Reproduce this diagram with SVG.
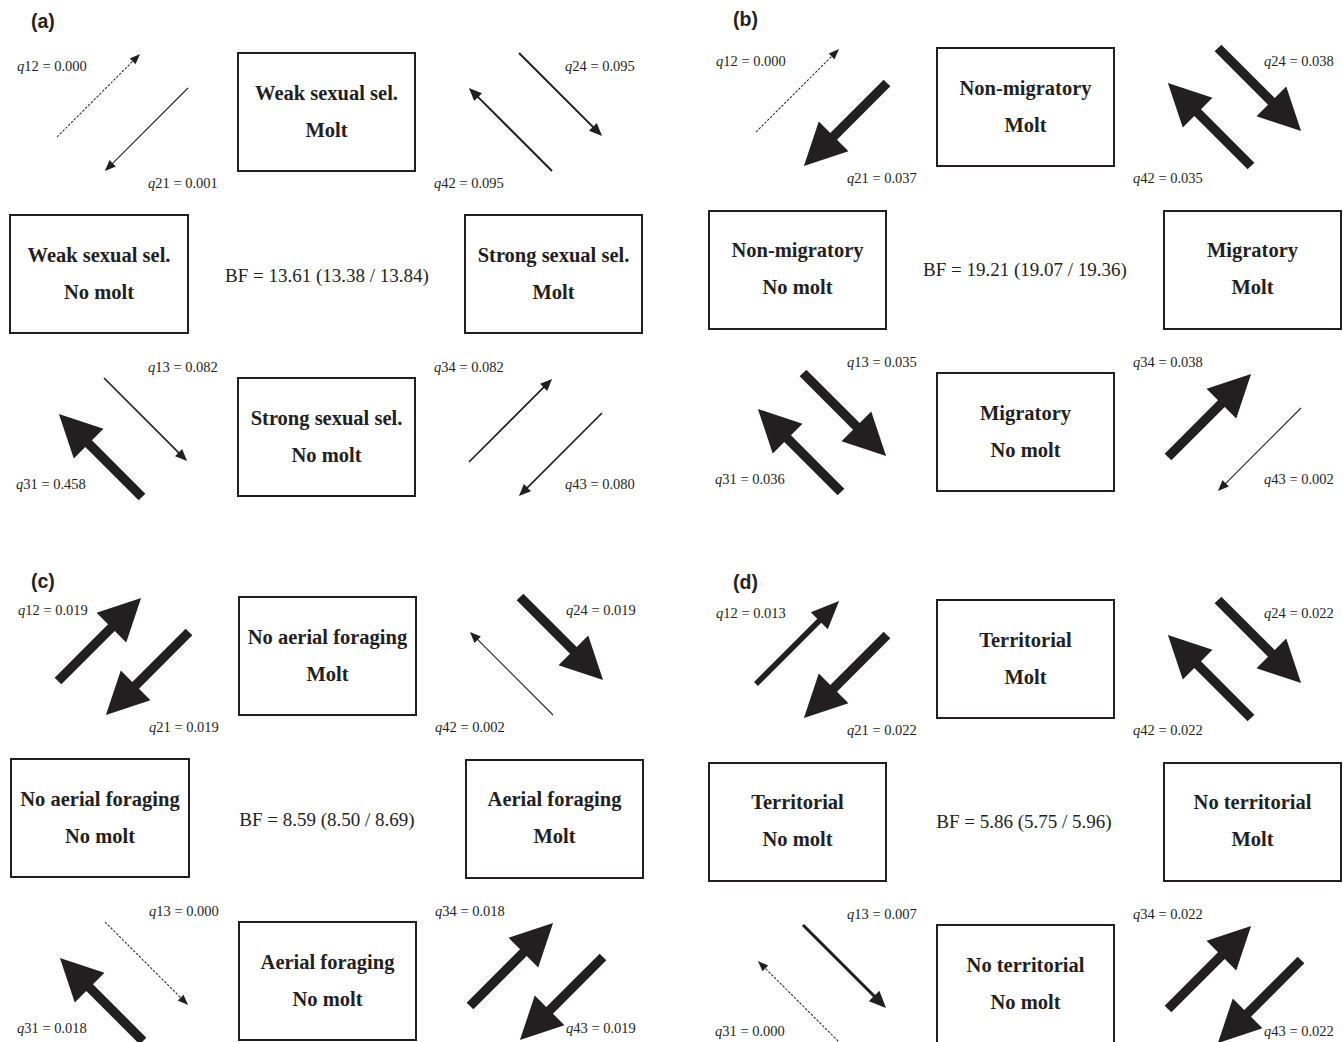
<svg xmlns="http://www.w3.org/2000/svg" xmlns:xlink="http://www.w3.org/1999/xlink" width="1343" height="1042" viewBox="0 0 1343 1042">
<style>
.box{fill:#fff;stroke:#231f20;stroke-width:2}
.bt{font-family:"Liberation Serif","Times New Roman",serif;font-weight:bold;font-size:20.5px;fill:#231f20;text-anchor:middle}
.bf{font-family:"Liberation Serif","Times New Roman",serif;font-size:19px;fill:#231f20;text-anchor:middle}
.q{font-family:"Liberation Serif","Times New Roman",serif;font-size:14.5px;fill:#231f20}
.q tspan{font-style:italic}
.pl{font-family:"Liberation Sans",Arial,sans-serif;font-weight:bold;font-size:19.5px;fill:#231f20}
.ar{fill:#231f20}
</style>
<defs>
<path id="thick" class="ar" d="M0,-4.75 H75.5 V-21 L117.5,0 L75.5,21 V4.75 H0 Z"/>
<path id="w56" class="ar" d="M0,-2.8 H89.5 V-12 L117.5,0 L89.5,12 V2.8 H0 Z"/>
<path id="w30" class="ar" d="M0,-1.5 H100.5 V-7.5 L117.5,0 L100.5,7.5 V1.5 H0 Z"/>
<path id="w20" class="ar" d="M0,-1 H104.5 V-5.5 L117.5,0 L104.5,5.5 V1 H0 Z"/>
<path id="w16" class="ar" d="M0,-0.8 H105.5 V-5 L117.5,0 L105.5,5 V0.8 H0 Z"/>
<path id="thin" class="ar" d="M0,-0.55 H106.5 V-4.5 L117.5,0 L106.5,4.5 V0.55 H0 Z"/>
<g id="dash">
<line x1="0" y1="0" x2="108" y2="0" stroke="#231f20" stroke-width="1" stroke-dasharray="2.5 1.5"/>
<path class="ar" d="M107,-4 L117.5,0 L107,4 Z"/>
</g>
</defs>
<rect width="1343" height="1042" fill="#fff"/>

<text class="pl" x="31" y="28">(a)</text>
<text class="pl" x="733" y="26">(b)</text>
<text class="pl" x="31" y="588">(c)</text>
<text class="pl" x="733" y="589">(d)</text>

<!-- Panel a -->
<g id="panel-a">
<g id="a-s2"><rect class="box" x="238" y="53" width="177" height="118"/><text class="bt" x="326.5" y="100">Weak sexual sel.</text><text class="bt" x="326.5" y="137">Molt</text></g>
<g id="a-s1"><rect class="box" x="10" y="215" width="178" height="118"/><text class="bt" x="99" y="262">Weak sexual sel.</text><text class="bt" x="99" y="299">No molt</text></g>
<g id="a-s4"><rect class="box" x="465" y="215" width="177" height="118"/><text class="bt" x="553.5" y="262">Strong sexual sel.</text><text class="bt" x="553.5" y="299">Molt</text></g>
<g id="a-s3"><rect class="box" x="238" y="378" width="177" height="118"/><text class="bt" x="326.5" y="425">Strong sexual sel.</text><text class="bt" x="326.5" y="462">No molt</text></g>
<text id="a-bf" class="bf" x="327" y="282">BF = 13.61 (13.38 / 13.84)</text>
</g>

<!-- Panel b -->
<g id="panel-b" transform="translate(699,-5)">
<g id="b-s2"><rect class="box" x="238" y="53" width="177" height="118"/><text class="bt" x="326.5" y="100">Non-migratory</text><text class="bt" x="326.5" y="137">Molt</text></g>
<g id="b-s1"><rect class="box" x="10" y="216" width="177" height="118"/><text class="bt" x="98.5" y="262">Non-migratory</text><text class="bt" x="98.5" y="299">No molt</text></g>
<g id="b-s4"><rect class="box" x="465" y="216" width="177" height="118"/><text class="bt" x="553.5" y="262">Migratory</text><text class="bt" x="553.5" y="299">Molt</text></g>
<g id="b-s3"><rect class="box" x="238" y="378" width="177" height="118"/><text class="bt" x="326.5" y="425">Migratory</text><text class="bt" x="326.5" y="462">No molt</text></g>
<text id="b-bf" class="bf" x="326" y="281">BF = 19.21 (19.07 / 19.36)</text>
</g>

<!-- Panel c -->
<g id="panel-c" transform="translate(1,544)">
<g id="c-s2"><rect class="box" x="238" y="53" width="177" height="118"/><text class="bt" x="326.5" y="100">No aerial foraging</text><text class="bt" x="326.5" y="137">Molt</text></g>
<g id="c-s1"><rect class="box" x="10" y="215" width="178" height="118"/><text class="bt" x="99" y="262">No aerial foraging</text><text class="bt" x="99" y="299">No molt</text></g>
<g id="c-s4"><rect class="box" x="465" y="216" width="177" height="118"/><text class="bt" x="553.5" y="262">Aerial foraging</text><text class="bt" x="553.5" y="299">Molt</text></g>
<g id="c-s3"><rect class="box" x="238" y="378" width="177" height="118"/><text class="bt" x="326.5" y="425">Aerial foraging</text><text class="bt" x="326.5" y="462">No molt</text></g>
<text id="c-bf" class="bf" x="326" y="282">BF = 8.59 (8.50 / 8.69)</text>
</g>

<!-- Panel d -->
<g id="panel-d" transform="translate(699,547)">
<g id="d-s2"><rect class="box" x="238" y="53" width="177" height="118"/><text class="bt" x="326.5" y="100">Territorial</text><text class="bt" x="326.5" y="137">Molt</text></g>
<g id="d-s1"><rect class="box" x="10" y="216" width="177" height="118"/><text class="bt" x="98.5" y="262">Territorial</text><text class="bt" x="98.5" y="299">No molt</text></g>
<g id="d-s4"><rect class="box" x="465" y="216" width="177" height="118"/><text class="bt" x="553.5" y="262">No territorial</text><text class="bt" x="553.5" y="299">Molt</text></g>
<g id="d-s3"><rect class="box" x="238" y="378" width="177" height="118"/><text class="bt" x="326.5" y="425">No territorial</text><text class="bt" x="326.5" y="462">No molt</text></g>
<text id="d-bf" class="bf" x="325" y="281">BF = 5.86 (5.75 / 5.96)</text>
</g>

<g id="connectors">
<g id="conn-a">
<use xlink:href="#dash" href="#dash" transform="translate(57,137) rotate(-45)"/>
<use xlink:href="#thin" href="#thin" transform="translate(188,88) rotate(135)"/>
<use xlink:href="#w20" href="#w20" transform="translate(519,53) rotate(45)"/>
<use xlink:href="#w20" href="#w20" transform="translate(552,171) rotate(-135)"/>
<use xlink:href="#w16" href="#w16" transform="translate(104,378) rotate(45)"/>
<use xlink:href="#thick" href="#thick" transform="translate(142,497) rotate(-135)"/>
<use xlink:href="#w16" href="#w16" transform="translate(469,462) rotate(-45)"/>
<use xlink:href="#w16" href="#w16" transform="translate(602,413) rotate(135)"/>
<text class="q" x="17" y="71"><tspan>q</tspan>12 = 0.000</text>
<text class="q" x="148" y="188"><tspan>q</tspan>21 = 0.001</text>
<text class="q" x="565" y="71"><tspan>q</tspan>24 = 0.095</text>
<text class="q" x="434" y="188"><tspan>q</tspan>42 = 0.095</text>
<text class="q" x="148" y="372"><tspan>q</tspan>13 = 0.082</text>
<text class="q" x="434" y="372"><tspan>q</tspan>34 = 0.082</text>
<text class="q" x="16" y="489"><tspan>q</tspan>31 = 0.458</text>
<text class="q" x="565" y="489"><tspan>q</tspan>43 = 0.080</text>
</g>
<g id="conn-b" transform="translate(699,-5)">
<use xlink:href="#dash" href="#dash" transform="translate(57,137) rotate(-45)"/>
<use xlink:href="#thick" href="#thick" transform="translate(188,88) rotate(135)"/>
<use xlink:href="#thick" href="#thick" transform="translate(519,53) rotate(45)"/>
<use xlink:href="#thick" href="#thick" transform="translate(552,171) rotate(-135)"/>
<use xlink:href="#thick" href="#thick" transform="translate(104,378) rotate(45)"/>
<use xlink:href="#thick" href="#thick" transform="translate(142,497) rotate(-135)"/>
<use xlink:href="#thick" href="#thick" transform="translate(469,462) rotate(-45)"/>
<use xlink:href="#thin" href="#thin" transform="translate(602,413) rotate(135)"/>
<text class="q" x="17" y="71"><tspan>q</tspan>12 = 0.000</text>
<text class="q" x="148" y="188"><tspan>q</tspan>21 = 0.037</text>
<text class="q" x="565" y="71"><tspan>q</tspan>24 = 0.038</text>
<text class="q" x="434" y="188"><tspan>q</tspan>42 = 0.035</text>
<text class="q" x="148" y="372"><tspan>q</tspan>13 = 0.035</text>
<text class="q" x="434" y="372"><tspan>q</tspan>34 = 0.038</text>
<text class="q" x="16" y="489"><tspan>q</tspan>31 = 0.036</text>
<text class="q" x="565" y="489"><tspan>q</tspan>43 = 0.002</text>
</g>
<g id="conn-c" transform="translate(1,544)">
<use xlink:href="#thick" href="#thick" transform="translate(57,137) rotate(-45)"/>
<use xlink:href="#thick" href="#thick" transform="translate(188,88) rotate(135)"/>
<use xlink:href="#thick" href="#thick" transform="translate(519,53) rotate(45)"/>
<use xlink:href="#thin" href="#thin" transform="translate(552,171) rotate(-135)"/>
<use xlink:href="#dash" href="#dash" transform="translate(104,378) rotate(45)"/>
<use xlink:href="#thick" href="#thick" transform="translate(142,497) rotate(-135)"/>
<use xlink:href="#thick" href="#thick" transform="translate(469,462) rotate(-45)"/>
<use xlink:href="#thick" href="#thick" transform="translate(602,413) rotate(135)"/>
<text class="q" x="17" y="71"><tspan>q</tspan>12 = 0.019</text>
<text class="q" x="148" y="188"><tspan>q</tspan>21 = 0.019</text>
<text class="q" x="565" y="71"><tspan>q</tspan>24 = 0.019</text>
<text class="q" x="434" y="188"><tspan>q</tspan>42 = 0.002</text>
<text class="q" x="148" y="372"><tspan>q</tspan>13 = 0.000</text>
<text class="q" x="434" y="372"><tspan>q</tspan>34 = 0.018</text>
<text class="q" x="16" y="489"><tspan>q</tspan>31 = 0.018</text>
<text class="q" x="565" y="489"><tspan>q</tspan>43 = 0.019</text>
</g>
<g id="conn-d" transform="translate(699,547)">
<use xlink:href="#w56" href="#w56" transform="translate(57,137) rotate(-45)"/>
<use xlink:href="#thick" href="#thick" transform="translate(188,88) rotate(135)"/>
<use xlink:href="#thick" href="#thick" transform="translate(519,53) rotate(45)"/>
<use xlink:href="#thick" href="#thick" transform="translate(552,171) rotate(-135)"/>
<use xlink:href="#w30" href="#w30" transform="translate(104,378) rotate(45)"/>
<use xlink:href="#dash" href="#dash" transform="translate(142,497) rotate(-135)"/>
<use xlink:href="#thick" href="#thick" transform="translate(469,462) rotate(-45)"/>
<use xlink:href="#thick" href="#thick" transform="translate(602,413) rotate(135)"/>
<text class="q" x="17" y="71"><tspan>q</tspan>12 = 0.013</text>
<text class="q" x="148" y="188"><tspan>q</tspan>21 = 0.022</text>
<text class="q" x="565" y="71"><tspan>q</tspan>24 = 0.022</text>
<text class="q" x="434" y="188"><tspan>q</tspan>42 = 0.022</text>
<text class="q" x="148" y="372"><tspan>q</tspan>13 = 0.007</text>
<text class="q" x="434" y="372"><tspan>q</tspan>34 = 0.022</text>
<text class="q" x="16" y="489"><tspan>q</tspan>31 = 0.000</text>
<text class="q" x="565" y="489"><tspan>q</tspan>43 = 0.022</text>
</g>
</g>
</svg>
